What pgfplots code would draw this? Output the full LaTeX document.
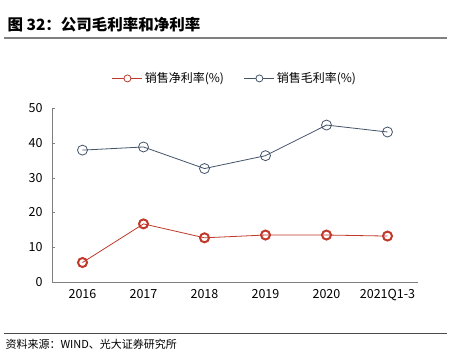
\documentclass[border=0pt]{standalone}
\usepackage{pgfplots}
\pgfplotsset{compat=1.18}
\usepackage{fontspec}
\setmainfont{Noto Sans CJK SC}
\definecolor{netred}{HTML}{C0392B}
\definecolor{grossblue}{HTML}{44546A}
\definecolor{axgray}{HTML}{7F7F7F}
\begin{document}
\begin{tikzpicture}[x=1pt,y=1pt]
\path[fill=white] (0,0) rectangle (474,357);
% title
\node[anchor=west,font=\fontsize{15.5}{17}\selectfont\bfseries] at (4,332) {图 32：公司毛利率和净利率};
\draw[line width=1.5pt,color=gray] (4,319) -- (447,319);
% source
\draw[line width=0.8pt,color=black!70] (4,24) -- (447,24);
\node[anchor=west,font=\fontsize{11}{13}\selectfont] at (2,13) {资料来源：WIND、光大证券研究所};
\begin{axis}[
  at={(52pt,75pt)}, anchor=south west,
  scale only axis, width=366pt, height=174pt,
  xmin=-0.5, xmax=5.5, ymin=0, ymax=50,
  axis x line*=bottom, axis y line*=left,
  axis line style={color=axgray, line width=0.8pt},
  xtick={0,1,2,3,4,5},
  xticklabels={2016,2017,2018,2019,2020,2021Q1-3},
  extra x ticks={-0.5,0.5,1.5,2.5,3.5,4.5,5.5},
  extra x tick labels={},
  extra x tick style={major tick length=3pt, tick style={color=axgray}},
  xtick style={draw=none},
  ytick={0,10,20,30,40,50},
  ytick style={color=axgray},
  major tick length=3pt,
  tick label style={font=\fontsize{12.5}{14}\selectfont},
  /pgf/number format/assume math mode=true,
  yticklabel style={xshift=-6pt},
  xticklabel style={yshift=-4pt},
  legend columns=2,
  legend style={at={(0.5,1.17)}, anchor=center, draw=none, fill=none,
    font=\fontsize{12}{14}\selectfont, /tikz/every even column/.append style={column sep=18pt}},
]
\addplot[color=netred, line width=0.8pt, mark=o, mark size=4.5pt,
  mark options={line width=2pt, fill=white, draw=netred},
  legend image code/.code={
    \draw[netred, line width=0.8pt] (0pt,0pt) -- (30pt,0pt);
    \draw[netred, line width=0.8pt, fill=white] (15pt,0pt) circle (3.5pt);
  }]
  coordinates {(0,5.6) (1,16.7) (2,12.7) (3,13.5) (4,13.5) (5,13.2)};
\addlegendentry{销售净利率(\%)}
\addplot[color=grossblue, line width=0.8pt, mark=o, mark size=5pt,
  mark options={line width=0.8pt, fill=white, draw=grossblue},
  legend image code/.code={
    \draw[grossblue, line width=0.8pt] (0pt,0pt) -- (30pt,0pt);
    \draw[grossblue, line width=0.8pt, fill=white] (15pt,0pt) circle (3.5pt);
  }]
  coordinates {(0,37.9) (1,38.8) (2,32.6) (3,36.3) (4,45.1) (5,43.1)};
\addlegendentry{销售毛利率(\%)}
\end{axis}
\end{tikzpicture}
\end{document}
